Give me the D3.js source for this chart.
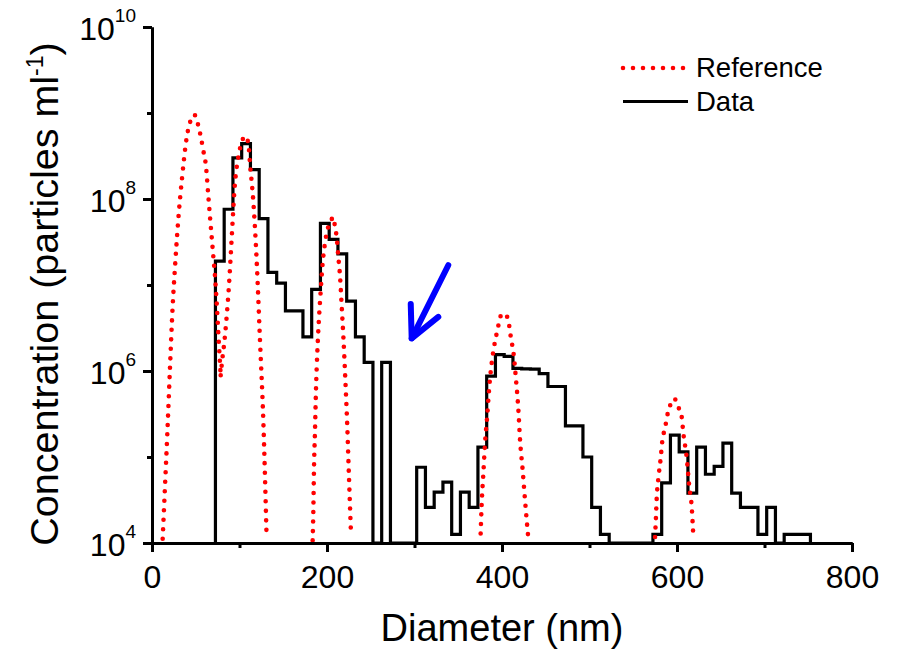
<!DOCTYPE html>
<html>
<head>
<meta charset="utf-8">
<script src="https://cdn.jsdelivr.net/npm/d3@7"></script>
<style>
  html, body { margin: 0; padding: 0; background: #fff; }
  svg { display: block; font-family: "Liberation Sans", Arial, sans-serif; }
</style>
</head>
<body>
<svg id="chart" width="897" height="652"></svg>
<script>
// measured histogram: bin centres (nm), bin width 10 nm, concentration (particles/ml), 0 = empty bin
const binCenters = [77.5, 87.5, 97.5, 107.5, 117.5, 127.5, 137.5, 147.5, 157.5, 167.5,
  177.5, 187.5, 197.5, 207.5, 217.5, 227.5, 237.5, 247.5, 257.5, 267.5,
  277.5, 287.5, 297.5, 307.5, 317.5, 327.5, 337.5, 347.5, 357.5, 367.5,
  377.5, 387.5, 397.5, 407.5, 417.5, 427.5, 437.5, 447.5, 457.5, 467.5,
  477.5, 487.5, 497.5, 507.5, 517.5, 527.5, 537.5, 547.5, 557.5, 567.5,
  577.5, 587.5, 597.5, 607.5, 617.5, 627.5, 637.5, 647.5, 657.5, 667.5,
  677.5, 687.5, 697.5, 707.5, 717.5, 727.5, 737.5, 747.5];
const binWidth = 10;
const dataConc = [1.9e7, 7.6e7, 3.0e8, 4.4e8, 2.2e8, 5.9e7, 1.4e7, 1.05e7, 5.0e6, 5.0e6,
  2.5e6, 8.9e6, 5.2e7, 3.4e7, 2.3e7, 6.5e6, 2.5e6, 1.26e6, 0, 1.26e6,
  0, 0, 0, 7.6e4, 2.6e4, 3.9e4, 5.1e4, 1.26e4, 3.9e4, 2.6e4,
  1.3e5, 8.7e5, 1.55e6, 1.48e6, 1.07e6, 1.06e6, 1.05e6, 9.3e5, 6.6e5, 6.6e5,
  2.3e5, 2.3e5, 1.0e5, 2.6e4, 1.26e4, 0, 0, 0, 0, 0,
  1.26e4, 5.0e4, 1.8e5, 1.15e5, 3.8e4, 1.3e5, 6.3e4, 7.8e4, 1.45e5, 3.8e4,
  2.6e4, 2.6e4, 1.26e4, 2.6e4, 0, 1.26e4, 1.26e4, 1.26e4];

// reference size distribution, one list per peak: [diameter nm, log10 concentration]
const refPeak50 = [[12.2, 4.05], [14.9, 4.67], [17.5, 5.27], [20.6, 6.05], [23.6, 6.75], [26.3, 7.21],
  [30.1, 7.77], [34.3, 8.24], [39.6, 8.71], [45.3, 8.94], [48.4, 8.98], [53.0, 8.85], [58.7, 8.56],
  [61.7, 8.38], [64.4, 8.03], [66.3, 7.79], [68.2, 7.56], [70.1, 7.33], [72.0, 7.10], [73.9, 6.80],
  [75.8, 6.44], [78.5, 5.95]];
const refPeak100 = [[78.5, 5.95], [80.5, 6.15], [82.3, 6.30], [85.3, 6.63], [88.0, 7.00], [89.9, 7.33],
  [91.8, 7.68], [94.5, 8.14], [98.7, 8.49], [102.5, 8.66], [106.3, 8.73], [110.1, 8.65], [112.0, 8.41],
  [115.8, 7.97], [119.6, 7.29], [123.4, 6.36], [127.2, 5.43], [131.0, 4.05]];
const refPeak200 = [[183.6, 4.03], [184.4, 4.38], [185.1, 4.85], [186.3, 5.31], [187.4, 5.78], [188.9, 6.21],
  [190.5, 6.55], [192.6, 6.90], [195.0, 7.25], [197.6, 7.48], [201.5, 7.68], [204.2, 7.74], [207.2, 7.79],
  [209.1, 7.68], [211.0, 7.56], [212.9, 7.33], [214.9, 7.10], [216.8, 6.75], [218.7, 6.40], [221.3, 5.82],
  [223.2, 5.35], [225.1, 4.77], [226.3, 4.42], [227.4, 4.11]];
const refPeak400 = [[375.6, 4.11], [376.8, 4.46], [378.7, 4.81], [380.6, 5.16], [383.2, 5.49], [385.5, 5.82],
  [388.2, 6.09], [390.9, 6.28], [394.0, 6.44], [396.3, 6.55], [398.5, 6.64], [402.5, 6.67], [407.3, 6.59],
  [409.1, 6.46], [411.0, 6.34], [412.9, 6.23], [416.0, 5.90], [418.7, 5.55], [420.6, 5.20], [423.6, 4.85],
  [426.3, 4.50], [428.2, 4.27], [430.1, 4.05]];
const refPeak600 = [[574.9, 4.07], [576.0, 4.31], [576.8, 4.52], [578.7, 4.75], [581.3, 4.98], [583.6, 5.22],
  [586.3, 5.33], [588.2, 5.45], [591.2, 5.57], [596.9, 5.68], [601.5, 5.58], [605.3, 5.47], [607.2, 5.28],
  [611.0, 5.00], [614.1, 4.65], [616.8, 4.42], [618.7, 4.07]];

const xMajor = [0, 200, 400, 600, 800];
const xMinor = [100, 300, 500, 700];
const yMajor = [1e4, 1e6, 1e8, 1e10];
const yMinor = [1e5, 1e7, 1e9];

// arrow annotation: [diameter, log10 conc]
const arrowTail = [338.6, 7.23];
const arrowTip = [296.8, 6.38];
const arrowBarbs = [[295.7, 6.78], [327.2, 6.63]];

const svg = d3.select("#chart");
const margin = { top: 27, right: 45, bottom: 109, left: 152 };
const width = +svg.attr("width");
const height = +svg.attr("height");

const x = d3.scaleLinear().domain([0, 800]).range([margin.left, width - margin.right]);
const y = d3.scaleLog().domain([1e4, 1e10]).range([height - margin.bottom, margin.top]);
const floor = 1e4;

svg.append("rect").attr("width", width).attr("height", height).attr("fill", "#fff");

// --- histogram (step line) ---
const steps = [[binCenters[0] - binWidth / 2, floor]];
binCenters.forEach((c, i) => steps.push([c - binWidth / 2, Math.max(dataConc[i], floor)]));
steps.push([binCenters[binCenters.length - 1] + binWidth / 2, floor]);

svg.append("path")
  .datum(steps)
  .attr("fill", "none")
  .attr("stroke", "#000")
  .attr("stroke-width", 3.2)
  .attr("stroke-linejoin", "miter")
  .attr("d", d3.line().x(d => x(d[0])).y(d => y(d[1])).curve(d3.curveStepAfter));

// --- reference curve (dotted red) ---
const refLine = d3.line()
  .x(d => x(d[0]))
  .y(d => y(Math.pow(10, d[1])))
  .curve(d3.curveMonotoneX);

[refPeak50, refPeak100, refPeak200, refPeak400, refPeak600].forEach(pk => {
  svg.append("path")
    .datum(pk)
    .attr("fill", "none")
    .attr("stroke", "#ff0000")
    .attr("stroke-width", 4.6)
    .attr("stroke-linecap", "round")
    .attr("stroke-dasharray", "0 9.5")
    .attr("d", refLine);
});

// --- axes ---
const axisStyle = g => {
  g.select(".domain").attr("stroke", "#000").attr("stroke-width", 3);
  g.selectAll(".tick line").attr("stroke", "#000").attr("stroke-width", 3);
};

svg.append("g")
  .attr("transform", `translate(0,${y(floor)})`)
  .call(d3.axisBottom(x).tickValues(xMinor).tickSize(5).tickSizeOuter(0).tickFormat(""))
  .call(axisStyle);

const xAxis = svg.append("g")
  .attr("transform", `translate(0,${y(floor)})`)
  .call(d3.axisBottom(x).tickValues(xMajor).tickSize(9).tickSizeOuter(0).tickPadding(13))
  .call(axisStyle);
xAxis.selectAll(".tick text")
  .attr("fill", "#000")
  .style("font-size", "32px")
  .style("font-family", "'Liberation Sans', Arial, sans-serif");

svg.append("g")
  .attr("transform", `translate(${x(0)},0)`)
  .call(d3.axisLeft(y).tickValues(yMinor).tickSize(5).tickSizeOuter(0).tickFormat(""))
  .call(axisStyle);

const yAxis = svg.append("g")
  .attr("transform", `translate(${x(0)},0)`)
  .call(d3.axisLeft(y).tickValues(yMajor).tickSize(9).tickSizeOuter(0).tickFormat(""))
  .call(axisStyle);

yAxis.selectAll(".tick").each(function (d) {
  const t = d3.select(this).append("text")
    .attr("x", -16)
    .attr("y", 12)
    .attr("text-anchor", "end")
    .attr("fill", "#000")
    .style("font-size", "32px");
  t.append("tspan").text("10");
  t.append("tspan")
    .attr("dy", -18)
    .style("font-size", "19px")
    .text(Math.round(Math.log10(d)));
});

// --- axis titles ---
svg.append("text")
  .attr("x", (x(0) + x(800)) / 2)
  .attr("y", 641)
  .attr("text-anchor", "middle")
  .style("font-size", "38px")
  .text("Diameter (nm)");

const yTitle = svg.append("text")
  .attr("transform", `translate(58,${(y(1e4) + y(1e10)) / 2 + 9}) rotate(-90)`)
  .attr("text-anchor", "middle")
  .style("font-size", "39.5px");
yTitle.append("tspan").text("Concentration (particles ml");
yTitle.append("tspan").attr("dy", -15).style("font-size", "23px").text("-1");
yTitle.append("tspan").attr("dy", 15).text(")");

// --- legend ---
const legend = svg.append("g");
legend.append("line")
  .attr("x1", 623).attr("x2", 684).attr("y1", 68).attr("y2", 68)
  .attr("stroke", "#ff0000").attr("stroke-width", 4.6)
  .attr("stroke-linecap", "round").attr("stroke-dasharray", "0 10");
legend.append("text").attr("x", 696).attr("y", 77).style("font-size", "27.5px").text("Reference");
legend.append("line")
  .attr("x1", 623).attr("x2", 688).attr("y1", 101.5).attr("y2", 101.5)
  .attr("stroke", "#000").attr("stroke-width", 3.2);
legend.append("text").attr("x", 696).attr("y", 111).style("font-size", "27.5px").text("Data");

// --- blue arrow ---
const px = p => [x(p[0]), y(Math.pow(10, p[1]))];
const arrow = svg.append("g")
  .attr("fill", "none")
  .attr("stroke", "#0000ff")
  .attr("stroke-width", 6)
  .attr("stroke-linecap", "round")
  .attr("stroke-linejoin", "round");
arrow.append("path").attr("d", d3.line()([px(arrowTail), px(arrowTip)]));
arrow.append("path").attr("d", d3.line()([px(arrowBarbs[0]), px(arrowTip), px(arrowBarbs[1])]));
</script>
</body>
</html>
